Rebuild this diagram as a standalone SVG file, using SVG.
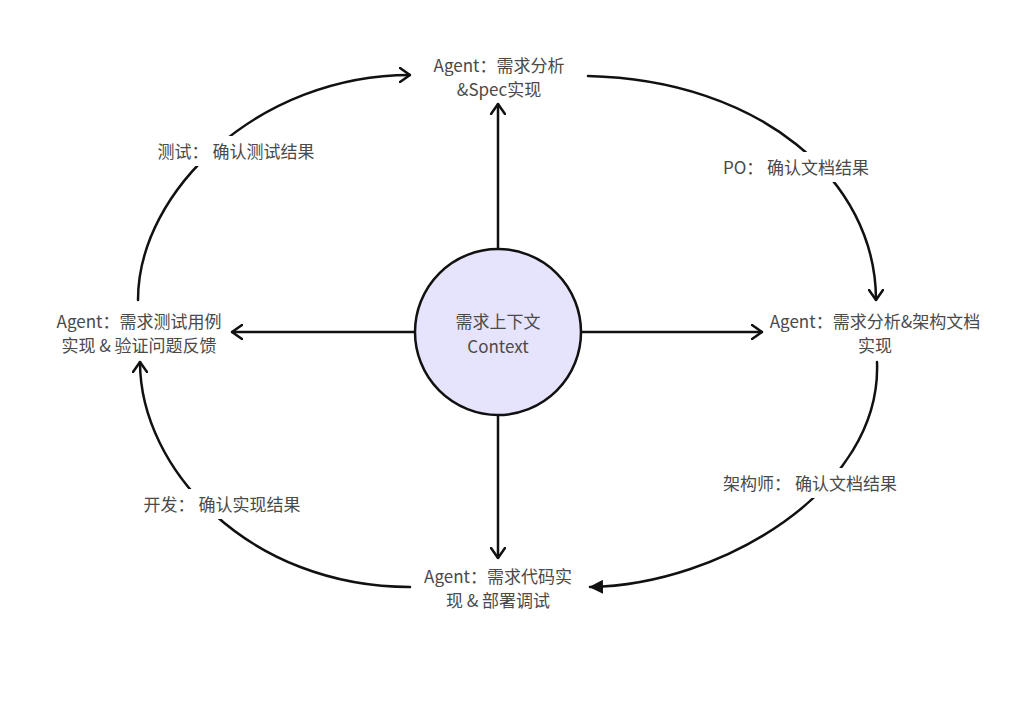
<svg xmlns="http://www.w3.org/2000/svg" width="1034" height="702" viewBox="0 0 1034 702">
<style>
  .t { font-family: "Noto Sans CJK SC", "Noto Sans", sans-serif; font-size: 17px; fill: #4a4a4a; text-anchor: middle; }
  .c { fill: none; stroke: #111; stroke-width: 2.5; stroke-linecap: round; }
  .bg { fill: #ffffff; }
</style>
<defs>
  <marker id="open" markerUnits="userSpaceOnUse" viewBox="0 0 12 16" refX="11" refY="8" markerWidth="12" markerHeight="16" orient="auto">
    <path d="M1,1 L11,8 L1,15" fill="none" stroke="#111" stroke-width="2.5" stroke-linecap="round" stroke-linejoin="round"/>
  </marker>
  <marker id="solid" markerUnits="userSpaceOnUse" viewBox="0 0 14 14" refX="13" refY="7" markerWidth="14" markerHeight="14" orient="auto">
    <path d="M0,0 L14,7 L0,14 Z" fill="#111"/>
  </marker>
</defs>
<rect width="1034" height="702" fill="#ffffff"/>
<g id="connectors">
  <line class="c" x1="498" y1="249" x2="498" y2="104" marker-end="url(#open)"/>
  <line class="c" x1="414" y1="332" x2="232" y2="332" marker-end="url(#open)"/>
  <line class="c" x1="582" y1="332" x2="762" y2="332" marker-end="url(#open)"/>
  <line class="c" x1="498" y1="416" x2="498" y2="558" marker-end="url(#open)"/>
  <path class="c" d="M138,300 C138,190 260,75 410,75" marker-end="url(#open)"/>
  <path class="c" d="M588,76 C760,80 876,180 876,300" marker-end="url(#open)"/>
  <path class="c" d="M877,362 C882,490 720,585 590,587" marker-end="url(#solid)"/>
  <path class="c" d="M410,587 C250,587 140,470 140,362" marker-end="url(#open)"/>
  <g id="edge-labels">
    <rect class="bg" x="148" y="136" width="178" height="30"/>
    <text class="t" x="236" y="158">测试： 确认测试结果</text>
    <rect class="bg" x="714" y="152" width="166" height="30"/>
    <text class="t" x="796" y="174">PO： 确认文档结果</text>
    <rect class="bg" x="712" y="468" width="196" height="30"/>
    <text class="t" x="810" y="490">架构师： 确认文档结果</text>
    <rect class="bg" x="134" y="489" width="176" height="30"/>
    <text class="t" x="222" y="511">开发： 确认实现结果</text>
  </g>
</g>
<g id="context">
  <circle cx="498" cy="332" r="83" fill="#e6e3fc" stroke="#111" stroke-width="2.5"/>
  <text class="t" x="498" y="328">需求上下文</text>
  <text class="t" x="498" y="353">Context</text>
</g>
<g id="node-top">
  <text class="t" x="499" y="72">Agent：需求分析</text>
  <text class="t" x="499" y="96">&amp;Spec实现</text>
</g>
<g id="node-left">
  <text class="t" x="139" y="328">Agent：需求测试用例</text>
  <text class="t" x="139" y="352">实现 &amp; 验证问题反馈</text>
</g>
<g id="node-right">
  <text class="t" x="875" y="328">Agent：需求分析&amp;架构文档</text>
  <text class="t" x="875" y="352">实现</text>
</g>
<g id="node-bottom">
  <text class="t" x="498" y="583">Agent：需求代码实</text>
  <text class="t" x="498" y="607">现 &amp; 部署调试</text>
</g>
</svg>
